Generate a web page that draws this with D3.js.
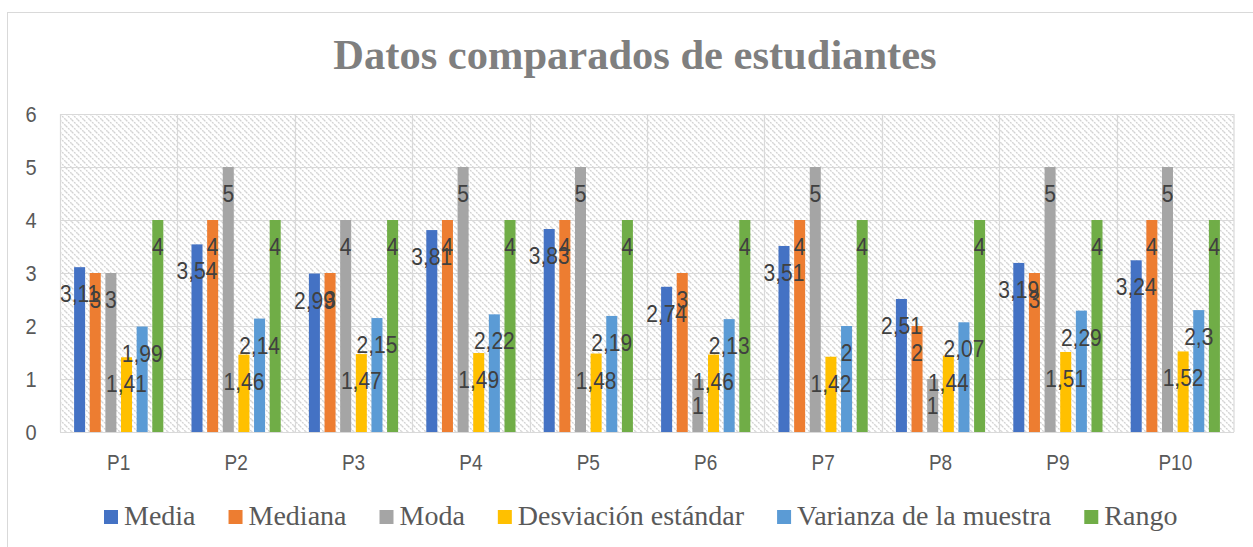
<!DOCTYPE html>
<html>
<head>
<meta charset="utf-8">
<script src="https://cdn.jsdelivr.net/npm/d3@7"></script>
<style>
  body { margin: 0; background: #fff; }
  svg { display: block; }
</style>
</head>
<body>
<svg id="chart" width="1253" height="547"></svg>
<script>
// chart data
const categories = ['P1', 'P2', 'P3', 'P4', 'P5', 'P6', 'P7', 'P8', 'P9', 'P10'];
const seriesNames = ['Media', 'Mediana', 'Moda', 'Desviación estándar', 'Varianza de la muestra', 'Rango'];
const media = [3.11, 3.54, 2.99, 3.81, 3.83, 2.74, 3.51, 2.51, 3.19, 3.24];
const mediana = [3, 4, 3, 4, 4, 3, 4, 2, 3, 4];
const moda = [3, 5, 4, 5, 5, 1, 5, 1, 5, 5];
const desviacion = [1.41, 1.46, 1.47, 1.49, 1.48, 1.46, 1.42, 1.44, 1.51, 1.52];
const varianza = [1.99, 2.14, 2.15, 2.22, 2.19, 2.13, 2, 2.07, 2.29, 2.3];
const rango = [4, 4, 4, 4, 4, 4, 4, 4, 4, 4];
const yTicks = [0, 1, 2, 3, 4, 5, 6];

const seriesValues = [media, mediana, moda, desviacion, varianza, rango];
const colors = ['#4472C4', '#ED7D31', '#A5A5A5', '#FFC000', '#5B9BD5', '#70AD47'];

const svg = d3.select('#chart');
const plot = { left: 60, right: 1234, top: 114, bottom: 432 };

// outer chart frame (runs off the right/bottom edge)
svg.append('rect')
  .attr('x', 7.5).attr('y', 12.5)
  .attr('width', 1270).attr('height', 600)
  .attr('fill', '#fff').attr('stroke', '#d9d9d9');

// hatch fill for plot area
const defs = svg.append('defs');
const pat = defs.append('pattern')
  .attr('id', 'hatch')
  .attr('patternUnits', 'userSpaceOnUse')
  .attr('width', 6).attr('height', 6);
pat.append('rect').attr('width', 6).attr('height', 6).attr('fill', '#fff');
pat.append('path')
  .attr('d', 'M0,0L6,6M-1,5L1,7M5,-1L7,1')
  .attr('stroke', '#d2d2d2')
  .attr('stroke-width', 1.3)
  .attr('stroke-dasharray', '2,1');

const x = d3.scaleBand()
  .domain(categories)
  .range([plot.left, plot.right])
  .padding(0);

const xInner = d3.scaleBand()
  .domain(d3.range(seriesNames.length))
  .range([x.bandwidth() * 0.12, x.bandwidth() * 0.88])
  .paddingInner(0.295)
  .paddingOuter(0);

const y = d3.scaleLinear()
  .domain([0, 6])
  .range([plot.bottom, plot.top]);

svg.append('rect')
  .attr('x', plot.left).attr('y', plot.top)
  .attr('width', plot.right - plot.left).attr('height', plot.bottom - plot.top)
  .attr('fill', 'url(#hatch)');

// gridlines
const grid = svg.append('g').attr('stroke', '#d9d9d9').attr('stroke-width', 1.2);
grid.selectAll('line.h')
  .data(yTicks)
  .join('line')
  .attr('class', 'h')
  .attr('x1', plot.left).attr('x2', plot.right)
  .attr('y1', d => Math.round(y(d)) + 0.5).attr('y2', d => Math.round(y(d)) + 0.5);
grid.selectAll('line.v')
  .data(categories.concat(['end']))
  .join('line')
  .attr('class', 'v')
  .attr('x1', d => d === 'end' ? plot.right : Math.round(x(d)) + 0.5)
  .attr('x2', d => d === 'end' ? plot.right : Math.round(x(d)) + 0.5)
  .attr('y1', plot.top).attr('y2', plot.bottom);

// title
svg.append('text')
  .attr('x', 635).attr('y', 69)
  .attr('text-anchor', 'middle')
  .attr('font-family', '"Liberation Serif", "Times New Roman", serif')
  .attr('font-weight', 'bold')
  .attr('font-size', 42.5)
  .attr('fill', '#7f7f7f')
  .text('Datos comparados de estudiantes');

// y axis labels
const sy = 1.13;
svg.append('g')
  .selectAll('text')
  .data(yTicks)
  .join('text')
  .attr('text-anchor', 'middle')
  .attr('transform', d => `translate(31,${y(d) + 8}) scale(1,${sy})`)
  .attr('font-family', '"Liberation Sans", Arial, sans-serif')
  .attr('font-size', 20)
  .attr('fill', '#595959')
  .text(d => d);

// x axis labels
svg.append('g')
  .selectAll('text')
  .data(categories)
  .join('text')
  .attr('text-anchor', 'middle')
  .attr('transform', d => `translate(${x(d) + x.bandwidth() / 2},470) scale(1,${sy})`)
  .attr('font-family', '"Liberation Sans", Arial, sans-serif')
  .attr('font-size', 19)
  .attr('fill', '#595959')
  .text(d => d);

// bars
const rows = [];
seriesValues.forEach((vals, s) => {
  vals.forEach((v, i) => rows.push({ s, cat: categories[i], v }));
});

svg.append('g')
  .selectAll('rect')
  .data(rows)
  .join('rect')
  .attr('x', d => x(d.cat) + xInner(d.s))
  .attr('y', d => y(d.v))
  .attr('width', xInner.bandwidth())
  .attr('height', d => y(0) - y(d.v))
  .attr('fill', d => colors[d.s]);

// data labels
const fmt = v => String(v).replace('.', ',');
svg.append('g')
  .selectAll('text')
  .data(rows)
  .join('text')
  .attr('text-anchor', 'middle')
  .attr('transform', d => `translate(${x(d.cat) + xInner(d.s) + xInner.bandwidth() / 2},${y(d.v) + 35}) scale(1,${sy})`)
  .attr('font-family', '"Liberation Sans", Arial, sans-serif')
  .attr('font-size', 21)
  .attr('fill', '#404040')
  .text(d => fmt(d.v));

// legend
const legend = svg.append('g');
let lx = 104;
seriesNames.forEach((name, s) => {
  legend.append('rect')
    .attr('x', lx).attr('y', 510)
    .attr('width', 14).attr('height', 14)
    .attr('fill', colors[s]);
  const t = legend.append('text')
    .attr('x', lx + 20).attr('y', 525)
    .attr('font-family', '"Liberation Serif", "Times New Roman", serif')
    .attr('font-size', 28)
    .attr('fill', '#595959')
    .text(name);
  lx += 20 + t.node().getComputedTextLength() + 33;
});
</script>
</body>
</html>
